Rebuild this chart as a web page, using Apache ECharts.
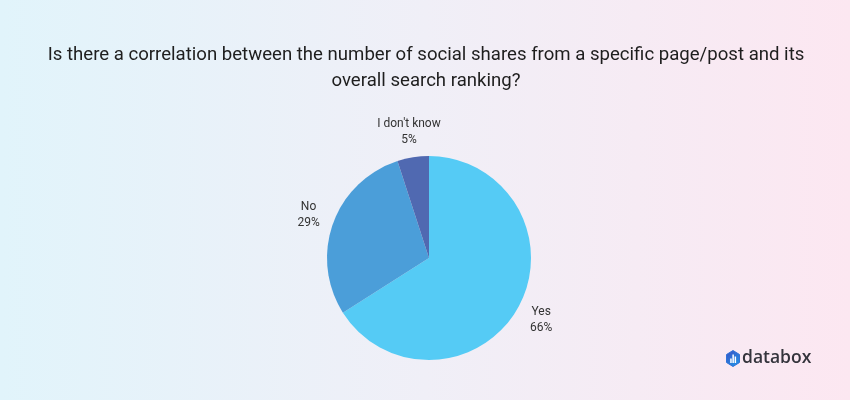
<!DOCTYPE html>
<html><head><meta charset="utf-8">
<script src="https://cdn.jsdelivr.net/npm/echarts@6/dist/echarts.min.js"></script>
<style>html,body{margin:0;padding:0;}#c{width:850px;height:400px;}</style>
</head><body><div id="c"></div>
<script>
const titleText = 'Is there a correlation between the number of social shares from a specific page/post and its\noverall search ranking?';
const categories = ['Yes', 'No', "I don't know"];
const values = [66, 29, 5];
const colors = ['#55CBF5', '#4B9ED9', '#5069B1'];

const chart = echarts.init(document.getElementById('c'));
const CX = 429, CY = 258, R = 102, LABEL_R = 128;
const total = values.reduce((a, b) => a + b, 0);
function midAngle(i) {
  let before = 0;
  for (let k = 0; k < i; k++) before += values[k];
  const frac = (before + values[i] / 2) / total;
  return (90 - frac * 360) * Math.PI / 180;
}
chart.setOption({
  backgroundColor: new echarts.graphic.LinearGradient(0, 0, 1, 0, [
    { offset: 0, color: '#E1F4FB' },
    { offset: 0.5, color: '#F0EFF7' },
    { offset: 1, color: '#FCE7F1' }
  ]),
  title: {
    text: titleText,
    left: 421,
    top: 37,
    textAlign: 'center',
    textStyle: { fontFamily: 'Roboto', fontSize: 18.6, fontWeight: 'normal', color: '#1e1e1e', lineHeight: 26.5 }
  },
  series: [{
    type: 'pie',
    center: [CX, CY],
    radius: R,
    startAngle: 90,
    clockwise: true,
    animation: false,
    silent: true,
    data: categories.map((c, i) => ({ name: c, value: values[i], itemStyle: { color: colors[i] } })),
    label: {
      show: true,
      position: 'outside',
      formatter: '{b}\n{c}%',
      fontFamily: 'Roboto',
      fontSize: 12,
      lineHeight: 16,
      color: '#333333'
    },
    labelLine: { show: false },
    labelLayout: function (p) {
      const a = midAngle(p.dataIndex);
      return {
        x: CX + Math.cos(a) * LABEL_R,
        y: CY - Math.sin(a) * LABEL_R,
        align: 'center',
        verticalAlign: 'middle'
      };
    }
  }],
  graphic: [
    {
      type: 'polygon',
      shape: { points: [[733, 350.5], [739.5, 354.5], [739.5, 362.5], [733, 366.5], [726.5, 362.5], [726.5, 354.5]] },
      style: {
        fill: new echarts.graphic.LinearGradient(0, 0, 1, 1, [
          { offset: 0, color: '#3A4FC4' },
          { offset: 1, color: '#1E9BEA' }
        ]),
        stroke: '#2F72D8', lineWidth: 1, lineJoin: 'round'
      }
    },
    { type: 'rect', shape: { x: 730.2, y: 358.5, width: 1.5, height: 4.5 }, style: { fill: '#fff' } },
    { type: 'rect', shape: { x: 732.4, y: 354.5, width: 1.5, height: 8.5 }, style: { fill: '#fff' } },
    { type: 'rect', shape: { x: 734.6, y: 356.5, width: 1.5, height: 6.5 }, style: { fill: '#fff' } },
    {
      type: 'text', left: 742, top: 349,
      style: { text: 'databox', font: '600 17.5px "Open Sans"', fill: '#34343c' }
    }
  ]
});
</script></body></html>
